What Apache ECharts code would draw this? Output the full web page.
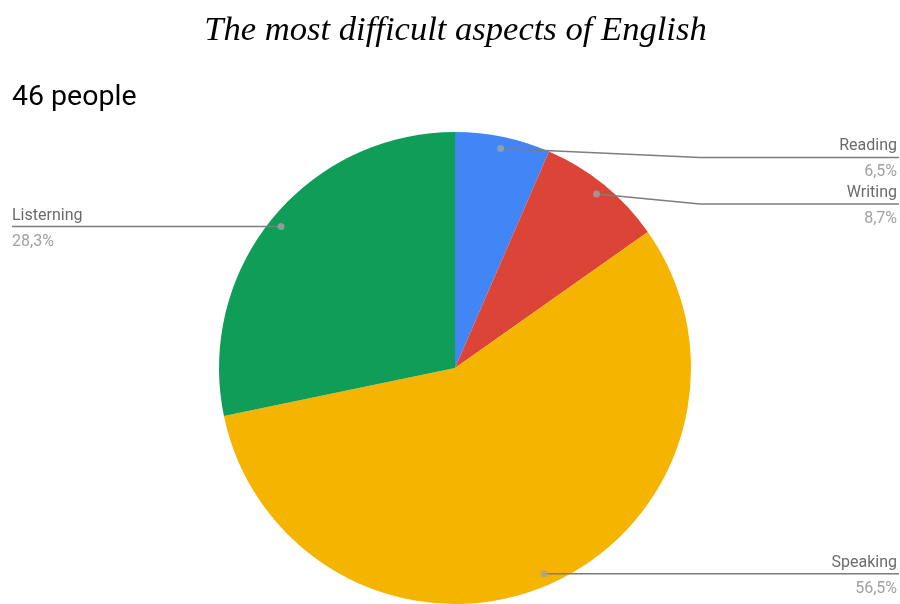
<!DOCTYPE html>
<html><head><meta charset="utf-8">
<script src="https://cdn.jsdelivr.net/npm/echarts@6/dist/echarts.min.js"></script>
<style>html,body{margin:0;padding:0;background:#fff}#c{width:900px;height:604px}</style>
</head><body><div id="c"></div>
<script>
const categories = ['Reading', 'Writing', 'Speaking', 'Listerning'];
const values = [3, 4, 26, 13];
const percentLabels = ['6,5%', '8,7%', '56,5%', '28,3%'];
const titleText = 'The most difficult aspects of English';
const subtitleText = '46 people';
const colors = ['#4285F4', '#DB4437', '#F4B400', '#0F9D58'];

const W = 900, H = 604, CX = 455, CY = 368, R = 236, DOT_R = 0.95;
const total = values.reduce((a, b) => a + b, 0);
const mids = []; let acc = 0; values.forEach(v => { mids.push(acc + v / 2); acc += v; });
const labelNudge = { Reading: 9, Writing: 10 };
const BEND_X = 700, RIGHT_LINE_END = 899, RIGHT_TEXT_X = 897, LEFT_X = 12;
function dotPos(i) {
  const a = mids[i] / total * 2 * Math.PI;
  return [CX + DOT_R * R * Math.sin(a), CY - DOT_R * R * Math.cos(a)];
}

const chart = echarts.init(document.getElementById('c'), null, { renderer: 'canvas' });
chart.setOption({
  animation: false,
  backgroundColor: '#fff',
  graphic: [
    { type: 'text', x: 455.5, y: 30.5, style: { text: titleText, align: 'center', verticalAlign: 'middle', font: 'italic 34.6px "Liberation Serif", serif', fill: '#000' } },
    { type: 'text', x: 12, y: 97.5, style: { text: subtitleText, align: 'left', verticalAlign: 'middle', font: '28.5px Roboto, sans-serif', fill: '#000' } }
  ],
  polar: { center: [CX, CY], radius: R },
  angleAxis: { type: 'value', min: 0, max: total, startAngle: 90, clockwise: true, show: false },
  radiusAxis: { type: 'value', min: 0, max: 1, show: false },
  series: [
    {
      type: 'pie',
      center: [CX, CY],
      radius: R,
      startAngle: 90,
      clockwise: true,
      avoidLabelOverlap: false,
      data: categories.map((c, i) => ({ name: c, value: values[i], itemStyle: { color: colors[i] } })),
      itemStyle: { borderWidth: 0 },
      emphasis: { disabled: true },
      label: {
        show: true,
        position: 'outside',
        formatter: p => '{n|' + p.name + '}\n{p|' + percentLabels[p.dataIndex] + '}',
        rich: {
          n: { fontFamily: 'Roboto', fontSize: 16, color: '#6b6b6b', lineHeight: 26 },
          p: { fontFamily: 'Roboto', fontSize: 16, color: '#a0a0a0', lineHeight: 26 }
        }
      },
      labelLine: { show: false },
      labelLayout: function (p) {
        const i = p.dataIndex;
        const d = dotPos(i);
        const right = d[0] >= CX;
        const ly = d[1] + (labelNudge[categories[i]] || 0);
        return {
          x: right ? RIGHT_TEXT_X : LEFT_X, y: ly + 2,
          align: right ? 'right' : 'left',
          verticalAlign: 'middle'
        };
      }
    },
    {
      type: 'custom',
      coordinateSystem: 'polar',
      silent: true,
      z: 5,
      data: mids.map((m, i) => [DOT_R, m, i]),
      renderItem: function (params, api) {
        const d = api.coord([api.value(0), api.value(1)]);
        const i = api.value(2);
        const right = d[0] >= CX;
        const ly = d[1] + (labelNudge[categories[i]] || 0);
        const pts = right
          ? [d, [BEND_X, ly], [RIGHT_LINE_END, ly]]
          : [d, [LEFT_X, ly]];
        return {
          type: 'polyline',
          shape: { points: pts },
          style: { stroke: '#7d7d7d', lineWidth: 1.5, fill: null }
        };
      }
    },
    {
      type: 'scatter',
      coordinateSystem: 'polar',
      silent: true,
      z: 10,
      symbolSize: 7,
      itemStyle: { color: '#a3a3a3' },
      data: mids.map(m => [DOT_R, m])
    }
  ]
});
</script></body></html>
